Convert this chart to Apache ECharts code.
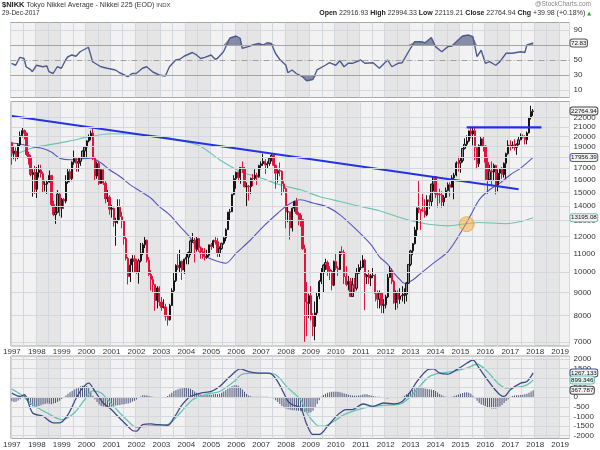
<!DOCTYPE html>
<html><head><meta charset="utf-8">
<script src="https://cdn.jsdelivr.net/npm/echarts@6/dist/echarts.min.js"></script>
<style>html,body{margin:0;padding:0;background:#fff}#c{width:600px;height:450px}</style>
</head><body><div id="c"></div>
<script>
// ---- categories: monthly, Jan 1997 .. May 2019
const months = [];
for (let y = 1997; y <= 2019; y++) for (let m = 1; m <= 12; m++) { if (y === 2019 && m > 5) break; months.push(y + '-' + String(m).padStart(2, '0')); }

// ---- monthly price data (Jan 1997 .. Dec 2017)
const firstOpen = 19361;
const closes = [
18330,18557,18003,19151,20068,20604,20331,18229,17888,16458,16636,15258,
16628,16832,16527,15641,15671,15830,16378,14108,13406,13565,14883,13842,
14499,14368,15837,16701,16112,17530,17862,17437,17605,17942,18558,18934,
19540,19960,20337,17974,16332,17411,15727,16861,15747,14539,14649,13786,
13844,12884,12999,13934,13262,12969,11861,10714,9775,10366,10697,10543,
9998,10588,11025,11493,11764,10622,9878,9619,9383,8640,9216,8579,
8340,8363,7973,7831,8425,9083,9563,10344,10219,10560,10101,10677,
10784,11042,11715,11762,11236,11859,11326,11082,10824,10771,10899,11489,
11388,11741,11669,11009,11277,11584,11900,12414,13574,13607,14872,16111,
16650,16205,17060,16906,15468,15505,15457,16141,16128,16399,16274,17226,
17383,17604,17288,17400,17876,18138,17249,16569,16786,16738,15681,15308,
13592,13603,12526,13850,14339,13481,13377,13073,11260,8577,8512,8860,
7994,7568,8110,8828,9523,9958,10357,10493,10133,10035,9346,10546,
10198,10126,11090,11057,9769,9383,9537,8824,9369,9202,9937,10229,
10238,10624,9755,9850,9694,9816,9833,8955,8700,8988,8435,8455,
8803,9723,10084,9521,8543,9007,8695,8840,8870,8928,9446,10395,
11139,11559,12398,13861,13775,13677,13668,13389,14456,14328,15662,16291,
14915,14841,14828,14304,14632,15162,15621,15425,16174,16414,17460,17451,
17674,18798,19207,19520,20563,20236,20585,18890,17388,19083,19747,19034,
17518,16027,16759,16666,17235,15576,16569,16887,16450,17425,18308,19114,
19041,19119,18909,19197,19651,20033,19925,19646,20356,22012,22725,22765];
const highs = [
19446,18950,18900,19300,20500,20910,20700,20400,18500,18200,16900,17200,
17100,17300,17300,16700,15900,16000,16800,16400,14400,14000,15200,15000,
14600,14600,16400,17000,16900,17600,18600,18000,17900,18000,18600,19000,
19600,20200,20600,20833,18000,17600,17600,16900,16900,15900,15200,14800,
14100,13900,13200,14500,14500,13600,13000,12000,10800,10700,10900,10900,
10700,10700,11600,11600,12000,11800,10800,10100,9800,9400,9300,9300,
8800,8700,8500,8000,8500,9200,10000,10400,11000,11200,10600,10700,
11000,11100,11800,12200,11900,12000,11900,11400,11300,11300,11200,11500,
11600,11800,12000,11900,11400,11600,11950,12500,13600,13800,14900,16400,
16700,16700,17100,17600,17100,15800,15600,16200,16500,16900,16600,17300,
17600,18300,17800,17600,17900,18300,18297,17300,16900,17500,16800,15900,
15400,14000,13600,13900,14400,14600,13600,13500,13100,11500,9500,8950,
9300,8100,8600,9000,9600,10200,10400,10700,10600,10300,10100,10600,
11000,10300,11100,11400,11200,10300,9800,9700,9700,9700,10200,10400,
10600,10900,10700,9900,10100,9900,10200,9900,9100,9100,9000,8700,
8900,9900,10300,10200,9600,9100,9100,9200,9300,9200,9500,10400,
11200,11600,12600,13900,15942,13800,14900,14500,14800,14800,15700,16320,
16320,15000,15300,15100,14800,15400,15800,15800,16400,16600,17600,18030,
17900,18800,19800,20100,20600,20953,20900,20900,18900,19200,20000,20000,
19100,17900,17300,17600,17400,17300,16900,17000,17100,17500,18400,19600,
19600,19500,19700,19300,20000,20300,20200,20100,20500,22100,23382,23000];
const lows = [
17303,17800,17600,17800,19000,19900,19700,18100,17300,16300,14700,14900,
14600,16200,16200,15000,15100,14900,15800,14000,13300,12787,13500,13300,
13200,13800,14200,15700,15800,15900,17300,16700,16700,17200,17900,18000,
18000,19400,19600,17700,16000,16100,15600,15700,15600,14200,14300,13400,
13200,12600,11433,12800,13000,12500,11500,10600,9382,9500,10000,10000,
9900,9420,10500,10900,11300,10500,9800,9100,9000,8200,8300,8400,
8200,8300,7800,7604,7800,8400,9000,9500,10100,10000,9600,9900,
10400,10400,10900,11600,10500,11100,11100,10700,10700,10600,10700,10800,
11200,11300,11500,10800,10800,11200,11500,11700,12400,13000,13600,14800,
15300,15900,15700,16600,15400,14000,14400,14900,15500,16000,15600,16200,
16900,17200,16500,17000,17200,17600,17200,15300,15800,16300,14800,15000,
12500,12900,11800,12300,13600,13400,12700,12600,11200,6995,7200,7900,
7800,7200,7054,8000,8700,9400,9000,10100,9800,9600,9100,9300,
10100,9800,10100,10900,9400,9300,9100,8800,8800,9000,9100,9900,
10100,10200,8227,9400,9400,9300,9700,8600,8300,8300,8100,8100,
8300,8750,9700,9400,8500,8238,8300,8500,8600,8500,8600,9400,
10300,10900,11500,12000,13500,12400,13600,13200,13300,13800,14000,15100,
14600,13900,14200,13900,13960,14600,15100,14700,15400,14500,16300,16700,
16600,17500,18700,19000,19400,19800,19100,17700,16900,17100,19000,18500,
16000,14900,15900,15500,16000,14864,15100,15900,16100,16200,16100,18200,
18600,18800,18600,18200,19100,19600,19800,19200,19200,20300,21800,22200];

// ---- moving averages: [monthIndex, value]
const ma50 = [[0,19330],[4,19230],[9,18990],[14,18840],[19,18460],[23,17890],[28,17750],[33,17830],[38,17890],[43,17450],[47,16860],[52,16290],[57,15610],[62,15090],[67,14580],[71,13970],[76,13390],[81,12610],[86,11890],[91,11000],[97,10640],[103,10460],[108,11010],[115,11790],[121,12610],[128,13500],[133,14100],[139,14460],[145,14220],[152,13930],[158,13390],[166,12400],[173,11490],[177,10800],[181,10400],[184,9940],[187,9600],[189,9440],[193,9600],[197,9940],[203,10460],[210,11100],[216,12200],[221,13390],[225,14460],[230,15220],[235,15750],[240,16440],[245,17000],[251,17956]];
const ma200 = [[0,18200],[2,18270],[10,18840],[27,19490],[38,20000],[48,20270],[58,20240],[71,20000],[84,19430],[91,19000],[100,17750],[110,16720],[120,16160],[129,15610],[139,15220],[148,14710],[158,14340],[168,13970],[177,13680],[186,13250],[197,12840],[210,12660],[219,12800],[225,12880],[238,12800],[245,12940],[251,13196]];

// ---- RSI(14)
const rsi = [[0,45.6],[2,43],[4,53.6],[6,52],[7,41],[9,37.6],[10,34.4],[12,43],[15,41],[17,42],[18,34.4],[20,32],[22,41],[24,39],[26,50],[27,54],[29,56.7],[31,55],[33,61],[35,64],[37,67],[39,47.8],[40,46],[43,41],[46,39],[50,36.7],[52,33],[56,27.8],[58,32],[60,32],[63,39],[65,41],[68,34],[71,30],[74,28.7],[76,41],[79,50],[81,51],[83,55],[87,60],[89,56.7],[91,52],[93,53.6],[96,56.7],[98,51],[99,52],[102,61],[105,79],[108,82],[110,79],[111,65.6],[114,67.8],[116,70],[119,72],[121,70],[123,73],[125,72],[127,59],[129,51],[132,43],[133,33],[135,36.7],[137,32],[140,27.8],[142,22.4],[145,24],[147,36.7],[151,43],[153,46.4],[156,43],[158,49],[160,41],[162,45.6],[164,45.6],[168,50],[170,45.6],[174,46.4],[177,39],[181,50],[183,41],[186,45.6],[188,46.4],[191,61],[194,74.4],[197,74.4],[199,73],[202,80],[204,67.8],[207,61],[210,67.8],[212,68.7],[214,74.4],[217,82],[220,83.3],[222,81],[224,54.4],[226,63],[228,45.6],[230,47.8],[233,43],[235,47.8],[238,59],[241,59],[245,61],[247,60],[248,70],[251,72.83]];

// ---- MACD(12,26,9)
const macdLine = [[0,217],[4,41],[6,130],[10,-817],[15,-990],[20,-1335],[23,-1335],[27,-904],[31,-41],[34,475],[37,734],[40,300],[44,-300],[48,-646],[51,-990],[55,-1421],[58,-1731],[60,-1765],[63,-1421],[67,-1387],[70,-1421],[75,-1456],[78,-1076],[82,-388],[86,41],[91,217],[96,300],[100,558],[105,1075],[110,1473],[114,1333],[120,1250],[124,1250],[128,816],[133,-217],[135,-388],[139,-558],[142,-1421],[145,-1938],[148,-1938],[152,-1509],[157,-904],[161,-646],[164,-646],[169,-351],[174,-475],[179,-300],[184,-351],[188,-217],[192,300],[195,816],[200,1421],[203,1473],[206,1250],[210,1199],[214,1421],[219,1767],[222,1938],[225,1509],[229,904],[232,475],[235,129],[237,41],[240,388],[245,734],[248,816],[251,1267]];
const signalLine = [[0,424],[4,165],[10,-388],[17,-817],[24,-1163],[30,-817],[35,-129],[39,336],[43,217],[49,-475],[56,-1250],[60,-1560],[65,-1509],[71,-1456],[75,-1421],[81,-817],[87,-129],[94,165],[100,300],[107,816],[111,1199],[118,1250],[126,1214],[133,475],[139,-129],[142,-817],[145,-1250],[148,-1509],[150,-1509],[155,-1250],[160,-904],[164,-733],[171,-525],[179,-423],[187,-351],[192,41],[197,646],[201,1075],[206,1250],[212,1333],[219,1509],[224,1716],[229,1333],[234,734],[238,475],[243,508],[248,646],[251,899]];
const macdHist = [
-210,-250,-230,-170,-110,40,80,-60,-250,-400,-470,-480,
-480,-450,-420,-380,-350,-330,-340,-360,-330,-300,-250,-180,
-90,0,90,180,260,330,400,460,520,570,600,610,
590,520,300,80,-100,-250,-380,-450,-480,-500,-520,-500,
-480,-450,-430,-420,-400,-380,-360,-340,-320,-280,-230,-180,
-120,-40,40,100,110,90,60,40,20,0,-20,-20,
-20,-10,10,60,150,240,320,380,420,450,470,480,
480,470,440,380,300,230,170,140,120,110,120,130,
130,150,170,160,180,230,300,380,450,520,580,620,
630,600,520,400,280,170,90,50,30,20,20,20,
20,30,30,20,10,0,-50,-150,-250,-350,-450,-520,
-580,-620,-650,-670,-680,-690,-700,-700,-720,-760,-800,-800,
-780,-700,-550,-350,-150,20,120,180,230,260,280,290,
290,280,260,230,200,170,130,100,90,80,80,90,
110,140,160,150,120,90,60,40,30,20,0,-30,
-50,-60,-40,-10,-20,-40,-30,0,30,80,150,220,
300,380,450,510,520,500,470,450,430,420,400,380,
330,250,170,100,50,20,10,0,20,60,100,140,
180,220,250,260,240,180,80,-50,-180,-300,-380,-420,
-460,-510,-550,-580,-590,-580,-540,-480,-400,-300,-200,-100,
-10,60,90,100,110,120,130,150,180,230,300,368];

// ---- annotations
const trendLine = [[0,22180],[244,15270]];
const resistance = [[219,20950],[255,20950]];
const goldenCross = [[219,12770]];

// ---- tick labels
const priceTicks = [7000,8000,9000,10000,11000,12000,13000,14000,15000,16000,17000,18000,19000,20000,21000,22000];
const rsiTicks = [10,30,50,70,90];
const macdTicks = [-2000,-1500,-1000,-500,0,500,1000,1500,2000];
const lastValues = { close: 22764.94, ma50: 17956.39, ma200: 13195.08, rsi: 72.83, macd: 1267.133, signal: 899.346, hist: 367.787 };

const F = '"Liberation Sans", Arial, "DejaVu Sans", sans-serif';
const GRID = '#d3d8df';
const opens = closes.map((c, i) => i === 0 ? firstOpen : closes[i - 1]);
const candles = closes.map((c, i) => [opens[i], c, lows[i], highs[i]]);

function xAx(gi, labels) {
  return {
    type: 'category', data: months, gridIndex: gi, boundaryGap: true,
    axisLine: { show: false }, axisTick: { show: false },
    axisLabel: { show: labels, interval: (i) => i % 12 === 0, formatter: (v) => v.slice(0, 4), fontSize: 8, color: '#333', fontFamily: F, margin: 2 },
    splitLine: { show: true, interval: (i) => i % 6 === 0, lineStyle: { color: GRID, width: 1 } },
    splitArea: { show: true, interval: (i) => i % 12 === 0, areaStyle: { color: ['rgba(0,0,0,0)', 'rgba(0,0,0,0.05)'] } }
  };
}
const lblStyle = { position: 'end', distance: 4, fontSize: 8, color: '#333', fontFamily: F };
function gridLines(values, fmt, styleFn, showFn) {
  return values.map(v => ({ yAxis: v, lineStyle: styleFn(v), label: Object.assign({}, lblStyle, { show: showFn(v), formatter: fmt(v) }) }));
}
function box(v, txt, border, bg) {
  return { yAxis: v, lineStyle: { color: 'rgba(0,0,0,0)', width: 1 }, label: Object.assign({}, lblStyle, { show: true, distance: 1, fontSize: 6.2, formatter: txt, backgroundColor: bg || '#f2f2f2', borderColor: border, borderWidth: 1, borderRadius: 2, padding: [1, 0.5, 0, 0.5], color: '#111' }) };
}
const ml = (data) => ({ silent: true, symbol: ['none', 'none'], animation: false, data: data });

const option = {
  animation: false,
  backgroundColor: '#ffffff',
  textStyle: { fontFamily: F },
  grid: [
    { left: 10.5, top: 22.5, width: 559, height: 75, show: true, backgroundColor: '#f2f2f2', borderColor: '#a9a9a9', borderWidth: 1 },
    { left: 10.5, top: 101.5, width: 559, height: 244.5, show: true, backgroundColor: '#f2f2f2', borderColor: '#a9a9a9', borderWidth: 1 },
    { left: 10.5, top: 356, width: 559, height: 82.5, show: true, backgroundColor: '#f2f2f2', borderColor: '#a9a9a9', borderWidth: 1 }
  ],
  xAxis: [xAx(0, false), xAx(1, true), xAx(2, true)],
  yAxis: [
    { type: 'value', gridIndex: 0, min: 0, max: 100, show: false },
    { type: 'log', logBase: 10, gridIndex: 1, min: 6850, max: 23900, show: false },
    { type: 'value', gridIndex: 2, min: -2145, max: 2145, show: false }
  ],
  graphic: [
    { type: 'text', x: 2, y: 1, style: { text: '{b|$NIKK} Tokyo Nikkei Average - Nikkei 225 (EOD) {s|INDX}', fontSize: 7, fontFamily: F, fill: '#333', rich: { b: { fontWeight: 'bold', fontSize: 7.5, fill: '#222', fontFamily: F }, s: { fontSize: 6, fill: '#444', fontFamily: F } } } },
    { type: 'text', x: 2, y: 10, style: { text: '29-Dec-2017', fontSize: 6.5, fontFamily: F, fill: '#333' } },
    { type: 'text', x: 591, y: 1, style: { text: '@StockCharts.com', align: 'right', fontSize: 6.5, fontFamily: F, fill: '#888' } },
    { type: 'text', x: 591, y: 10, style: { text: '{b|Open} 22916.93 {b|High} 22994.33 {b|Low} 22119.21 {b|Close} 22764.94 {b|Chg} +39.98 (+0.18%) {g|▲}', align: 'right', fontSize: 7, fontFamily: F, fill: '#333', rich: { b: { fontWeight: 'bold', fontSize: 7, fill: '#222', fontFamily: F }, g: { fontSize: 5, fill: '#22aa22', fontFamily: '"DejaVu Sans"' } } } }
  ],
  series: [
    // RSI panel
    { type: 'line', xAxisIndex: 0, yAxisIndex: 0, data: [], z: 1,
      markLine: ml(gridLines(rsiTicks, v => String(v),
        v => v === 50 ? { color: '#a0a0a0', type: [6, 2, 1, 2], width: 1 } : (v === 70 || v === 30) ? { color: '#a4a4a4', type: 'solid', width: 1.2 } : { color: GRID, type: 'solid', width: 1 },
        v => v !== 70)) },
    { type: 'line', xAxisIndex: 0, yAxisIndex: 0, data: rsi.map(p => [p[0], Math.max(p[1], 70)]), symbol: 'none', lineStyle: { width: 0 }, areaStyle: { origin: 70, color: '#737c99', opacity: 0.85 }, z: 2, silent: true },
    { type: 'line', xAxisIndex: 0, yAxisIndex: 0, data: rsi.map(p => [p[0], Math.min(p[1], 30)]), symbol: 'none', lineStyle: { width: 0 }, areaStyle: { origin: 30, color: '#737c99', opacity: 0.85 }, z: 2, silent: true },
    { type: 'line', xAxisIndex: 0, yAxisIndex: 0, data: rsi, symbol: 'none', lineStyle: { color: '#4d5b91', width: 1.4 }, z: 3 },
    { type: 'line', xAxisIndex: 0, yAxisIndex: 0, data: [], z: 10, markLine: ml([box(lastValues.rsi, '72.83', '#555')]) },

    // Price panel
    { type: 'line', xAxisIndex: 1, yAxisIndex: 1, data: [], z: 1,
      markLine: ml(gridLines(priceTicks, v => String(v), v => ({ color: GRID, type: 'solid', width: 1 }), v => true)) },
    { type: 'line', xAxisIndex: 1, yAxisIndex: 1, data: ma200, symbol: 'none', smooth: 0.3, lineStyle: { color: '#6cc3b2', width: 1.1 }, z: 2 },
    { type: 'line', xAxisIndex: 1, yAxisIndex: 1, data: ma50, symbol: 'none', smooth: 0.3, lineStyle: { color: '#5757c4', width: 1.1 }, z: 2 },
    { type: 'candlestick', xAxisIndex: 1, yAxisIndex: 1, data: candles, barWidth: 1.8, z: 3,
      itemStyle: { color: '#8e8e8e', color0: '#e0133e', borderColor: '#151515', borderColor0: '#e0133e', borderWidth: 1 } },
    { type: 'line', xAxisIndex: 1, yAxisIndex: 1, data: trendLine, symbol: 'none', clip: false, lineStyle: { color: '#2333e0', width: 2 }, z: 4 },
    { type: 'line', xAxisIndex: 1, yAxisIndex: 1, data: resistance, symbol: 'none', clip: false, lineStyle: { color: '#1f2fe6', width: 2.2 }, z: 6 },
    { type: 'scatter', xAxisIndex: 1, yAxisIndex: 1, data: goldenCross, symbolSize: 15, itemStyle: { color: 'rgba(246,170,50,0.62)', borderColor: 'rgba(235,150,30,0.8)', borderWidth: 1 }, z: 5 },
    { type: 'line', xAxisIndex: 1, yAxisIndex: 1, data: [], z: 10,
      markLine: ml([box(lastValues.close, '22764.94', '#444'), box(lastValues.ma50, '17956.39', '#5757c4'), box(lastValues.ma200, '13195.08', '#6cc3b2')]) },

    // MACD panel
    { type: 'line', xAxisIndex: 2, yAxisIndex: 2, data: [], z: 1,
      markLine: ml(gridLines(macdTicks, v => String(v), v => ({ color: GRID, type: 'solid', width: 1 }), v => true)) },
    { type: 'bar', xAxisIndex: 2, yAxisIndex: 2, data: macdHist, barWidth: 1, itemStyle: { color: '#4a5379' }, z: 2 },
    { type: 'line', xAxisIndex: 2, yAxisIndex: 2, data: signalLine, symbol: 'none', smooth: 0.3, lineStyle: { color: '#62c4b4', width: 1.3 }, z: 3 },
    { type: 'line', xAxisIndex: 2, yAxisIndex: 2, data: macdLine, symbol: 'none', smooth: 0.3, lineStyle: { color: '#3f4b86', width: 1.3 }, z: 3 },
    { type: 'line', xAxisIndex: 2, yAxisIndex: 2, data: [], z: 10,
      markLine: ml([box(lastValues.macd, '1267.133', '#3f4b86'), box(lastValues.signal, '899.346', '#62c4b4', '#dff2ee'), box(lastValues.hist, '367.787', '#444')]) }
  ]
};
const chart = echarts.init(document.getElementById('c'), null, { renderer: 'canvas' });
chart.setOption(option);
</script></body></html>
